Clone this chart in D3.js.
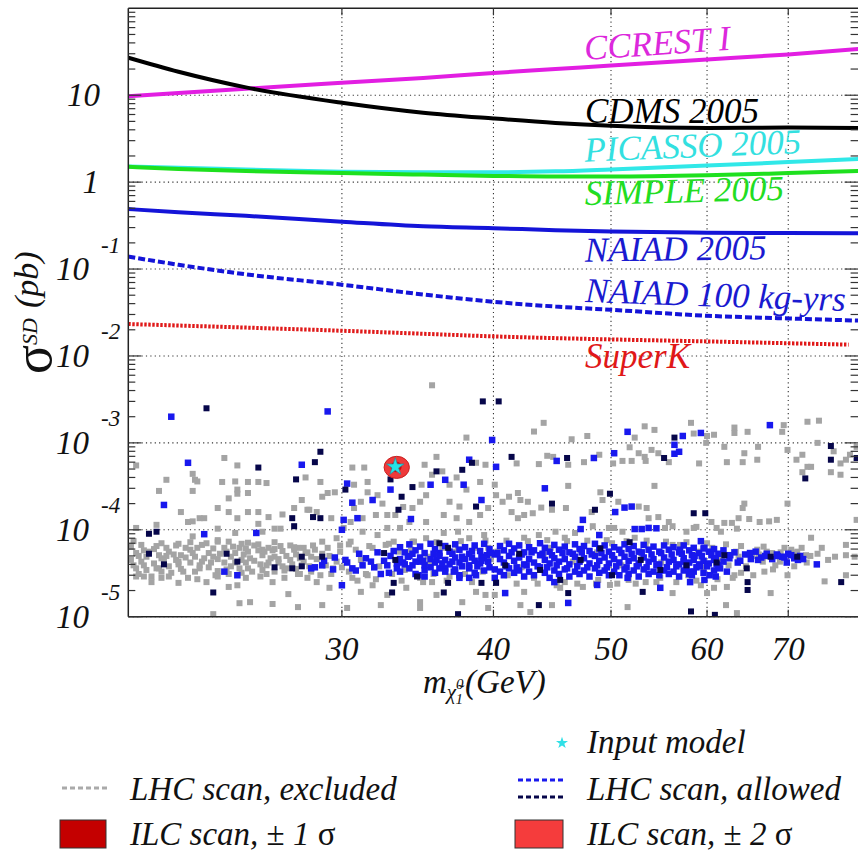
<!DOCTYPE html>
<html><head><meta charset="utf-8">
<script src="https://cdn.jsdelivr.net/npm/d3@7"></script>
<style>
html,body{margin:0;padding:0;background:#fff;}
svg{display:block;}
text{font-family:"Liberation Serif","Times New Roman",serif;}
</style></head>
<body>
<svg id="chart" width="858" height="851"></svg>
<script>
// ---------------- data ----------------
const xTickValues = [30, 40, 50, 60, 70];
const yDecades = [1e-5, 1e-4, 1e-3, 1e-2, 1e-1, 1, 10];
const yTickExponents = [-5, -4, -3, -2, -1, 0, 1];

const curveMass = [20, 22, 25, 30, 35, 40, 45, 50, 60, 70, 80];
const ccrest   = [9.7, 10.6, 11.9, 13.9, 15.8, 18.0, 20.0, 22.0, 25.8, 29.5, 34.0];
const cdms     = [27, 18.6, 12.3, 8.2, 6.3, 5.4, 4.8, 4.45, 4.2, 4.25, 4.2];
const picasso  = [1.51, 1.46, 1.40, 1.32, 1.30, 1.30, 1.33, 1.40, 1.55, 1.70, 1.85];
const simple   = [1.50, 1.42, 1.34, 1.27, 1.22, 1.18, 1.16, 1.16, 1.20, 1.27, 1.34];
const naiad    = [0.49, 0.45, 0.41, 0.35, 0.31, 0.295, 0.28, 0.27, 0.262, 0.26, 0.258];
const naiad100 = [0.139, 0.112, 0.087, 0.066, 0.051, 0.042, 0.037, 0.034, 0.029, 0.027, 0.0255];
const superKMass = [20, 25, 30, 35, 40, 50, 60, 70, 78.5];
const superK     = [0.0233, 0.0212, 0.0195, 0.018, 0.0168, 0.0155, 0.0147, 0.014, 0.0135];

const curveLabels = ["CCREST I", "CDMS 2005", "PICASSO 2005", "SIMPLE 2005", "NAIAD 2005", "NAIAD 100 kg-yrs", "SuperK"];

// input model and ILC fit regions (mass GeV, sigma pb)
const inputModel = [33.2, 5.3e-4];
const ilc2SigmaMass = [32.5, 34.1];
const ilc2SigmaXsec = [3.9e-4, 7.0e-4];
const ilc1SigmaMass = [32.9, 33.6];
const ilc1SigmaXsec = [4.6e-4, 6.1e-4];

// LHC scan, excluded (gray)
const lhcExcluded = [
[24.0,6.7e-4],[24.6,5.5e-4],[20.3,5.5e-4],[22.6,4.4e-4],[21.5,3.76e-4],[22.7,3.76e-4],[22.8,3.6e-4],[23.9,3.55e-4],[24.5,3.6e-4],[25.1,3.55e-4],[25.6,3.55e-4],[26.0,3.45e-4],[28.0,4.0e-4],[21.2,2.8e-4],[22.6,2.8e-4],[24.6,2.9e-4],[24.6,2.6e-4],[25.1,2.65e-4],[24.2,2.3e-4],[27.8,2.2e-4],[23.7,1.78e-4],[24.2,1.6e-4],[25.1,1.6e-4],[25.6,1.6e-4],[22.1,1.6e-4],[27.4,1.78e-4],[28.1,1.7e-4],[22.4,1.23e-4],[22.6,1.25e-4],[22.9,1.36e-4],[23.1,1.36e-4],[24.6,1.36e-4],[25.6,1.17e-4],[26.8,1.5e-4],[26.1,1.4e-4],[21.1,1.14e-4],[20.3,1.05e-4],[23.7,1.03e-4],[24.5,9.2e-5],[25.8,9.5e-5],[26.4,1.03e-4],[26.7,1.03e-4],[22.6,8.4e-5],[23.7,7.3e-5],[24.2,7.3e-5],[24.7,6.2e-5],[25.1,7.1e-5],[25.8,5.9e-5],[26.4,6.0e-5],[27.6,6.2e-5],
[20.3,2.9e-5],[20.6,2.9e-5],[20.9,2.5e-5],[21.3,2.8e-5],[21.6,2.9e-5],[22.0,2.45e-5],[22.4,2.8e-5],[22.8,2.7e-5],[23.2,2.5e-5],[23.7,2.9e-5],[24.2,2.2e-5],[24.6,2.3e-5],[25.0,2.8e-5],[25.7,2.9e-5],[26.3,2.5e-5],[26.9,2.8e-5],[27.1,1.82e-5],[27.6,3.1e-5],[24.7,1.43e-5],[25.2,1.47e-5],[26.3,1.4e-5],[27.6,1.29e-5],[23.5,1.07e-5],[28.1,2.8e-5],
[20.1,6.4e-5],[20.1,4.5e-5],[20.3,5.4e-5],[20.3,3.6e-5],[20.5,6.7e-5],[20.5,4.3e-5],[20.7,4.9e-5],[20.7,3.45e-5],[21.0,6.0e-5],[21.0,4.1e-5],[21.3,7.0e-5],[21.3,4.7e-5],[21.3,3.3e-5],[21.6,5.6e-5],[21.6,3.8e-5],[21.9,6.6e-5],[21.9,4.5e-5],[22.1,5.1e-5],[22.1,3.55e-5],[22.5,7.2e-5],[22.5,5.9e-5],[22.5,4.2e-5],[22.7,4.9e-5],[22.7,3.3e-5],[23.0,6.7e-5],[23.0,4.3e-5],[23.3,5.4e-5],[23.3,3.7e-5],[23.7,7.6e-5],[23.7,4.6e-5],[23.7,3.35e-5],[24.0,6.2e-5],[24.0,4.2e-5],[24.3,4.9e-5],[24.3,3.8e-5],[24.8,6.9e-5],[24.8,4.5e-5],[24.8,3.2e-5],[25.1,5.6e-5],[25.1,3.6e-5],[25.4,6.6e-5],[25.4,4.4e-5],[25.8,5.1e-5],[25.8,3.45e-5],[26.1,6.2e-5],[26.1,4.2e-5],[26.4,7.2e-5],[26.4,4.9e-5],[26.4,3.3e-5],[26.8,5.7e-5],[26.8,3.8e-5],[27.2,6.6e-5],[27.2,4.5e-5],[27.5,5.2e-5],[27.5,3.55e-5],[27.9,6.2e-5],[27.9,4.3e-5],[28.3,4.9e-5],[28.3,3.3e-5],
[20.2,3.9e-5],[20.6,5.8e-5],[21.1,3.6e-5],[21.5,5.0e-5],[22.0,4.0e-5],[22.3,6.2e-5],[22.9,3.9e-5],[23.5,4.9e-5],[24.1,3.5e-5],[24.5,5.4e-5],[25.0,4.2e-5],[25.6,5.8e-5],[26.0,3.9e-5],[26.6,4.6e-5],[27.0,3.6e-5],[27.4,5.9e-5],[27.8,3.9e-5],[28.1,5.5e-5],
[20.2,7.4e-5],[20.4,5.0e-5],[20.4,3.1e-5],[20.6,3.9e-5],[20.8,5.6e-5],[20.9,2.9e-5],[21.1,6.5e-5],[21.2,5.1e-5],[21.2,3.6e-5],[21.4,4.4e-5],[21.5,6.2e-5],[21.7,3.2e-5],[21.8,5.2e-5],[22.0,4.3e-5],[22.0,6.9e-5],[22.2,3.3e-5],[22.3,4.8e-5],[22.6,5.4e-5],[22.8,6.2e-5],[22.9,3.6e-5],[23.1,4.7e-5],[23.2,7.0e-5],[23.4,4.2e-5],[23.5,6.1e-5],[23.6,3.0e-5],[23.8,5.3e-5],[24.1,5.6e-5],[24.2,3.1e-5],[24.4,6.4e-5],[24.5,4.2e-5],[24.7,3.6e-5],[24.9,5.2e-5],[25.0,6.1e-5],[25.2,4.7e-5],[25.3,3.3e-5],[25.6,6.8e-5],[25.7,4.0e-5],[25.9,5.6e-5],[26.0,3.1e-5],[26.2,4.7e-5],[26.3,5.8e-5],[26.6,4.2e-5],[26.7,6.5e-5],[26.9,3.4e-5],[27.0,5.0e-5],[27.3,4.0e-5],[27.4,6.3e-5],[27.7,4.7e-5],[27.7,3.1e-5],[28.0,5.4e-5],[28.2,3.8e-5],[28.4,6.6e-5],[28.6,4.6e-5],[28.9,5.3e-5],[29.1,3.9e-5],[29.3,5.0e-5],[29.4,3.1e-5],[29.7,4.3e-5],[29.9,6.6e-5],[30.0,3.7e-5],
[35.6,4.6e-3],[38.0,1.15e-3],[30.6,5.2e-4],[31.3,5.2e-4],[28.8,3.55e-4],[29.2,2.65e-4],[29.6,2.7e-4],[28.9,2.4e-4],[28.6,1.6e-4],[28.2,1.7e-4],[30.7,3.3e-4],[31.5,3.55e-4],[31.5,2.7e-4],[31.1,2.1e-4],[30.7,1.78e-4],[32.1,2.5e-4],[32.4,2.0e-4],[32.0,1.48e-4],[31.2,1.36e-4],[30.5,1.23e-4],[32.7,1.48e-4],[33.2,1.48e-4],[33.7,1.83e-4],[34.3,1.78e-4],[34.8,2.1e-4],[35.2,2.5e-4],[34.9,3.3e-4],[35.6,4.3e-4],[36.3,4.7e-4],[35.1,5.6e-4],[35.9,6.9e-4],[36.8,3.3e-4],[37.3,4.0e-4],[38.0,2.9e-4],[39.0,3.55e-4],[38.7,5.9e-4],[39.4,5.6e-4],[36.8,2.1e-4],[37.5,1.85e-4],[36.4,1.48e-4],[37.3,1.36e-4],[38.2,1.23e-4],[39.0,1.48e-4],[39.6,1.78e-4],[35.2,1.23e-4],[34.1,1.23e-4],[33.5,1.05e-4],[32.7,1.05e-4],[32.1,8.7e-5],[31.2,9.5e-5],[30.5,7.3e-5],[29.7,8.0e-5],[28.9,7.3e-5],[33.1,7.3e-5],[34.3,7.3e-5],[35.2,8.0e-5],[36.4,9.2e-5],[37.4,9.5e-5],[38.2,8.0e-5],[39.3,8.7e-5],[30.1,1.05e-4],[29.4,1.36e-4],
[28.6,2.5e-5],[29.3,2.15e-5],[28.9,1.36e-5],[30.6,2.8e-5],[31.1,1.93e-5],[31.8,2.3e-5],[32.3,1.36e-5],[32.7,1.78e-5],[33.9,2.15e-5],[34.8,1.47e-5],[35.6,2.5e-5],[35.9,1.78e-5],[34.8,1.26e-5],[37.7,1.47e-5],[38.7,1.93e-5],[39.4,1.78e-5],[39.6,1.26e-5],[30.3,1.26e-5],[31.5,3.0e-5],
[28.5,5.9e-5],[28.8,3.0e-5],[29.2,6.2e-5],[29.5,3.6e-5],[29.9,5.6e-5],[30.4,3.3e-5],[30.8,5.9e-5],[31.1,4.5e-5],[31.4,3.1e-5],[31.8,6.2e-5],[32.2,3.8e-5],[32.6,6.7e-5],[33.0,3.1e-5],[33.4,5.6e-5],[33.8,3.45e-5],[34.2,5.9e-5],[34.8,2.8e-5],[35.3,4.9e-5],[35.7,3.1e-5],[36.3,6.2e-5],[36.8,2.9e-5],[37.4,5.9e-5],[37.9,3.1e-5],[38.6,6.2e-5],[39.2,3.3e-5],[39.6,6.2e-5],
[30.4,6.8e-5],[30.9,2.6e-5],[31.6,6.5e-5],[32.0,2.7e-5],[32.8,6.9e-5],[33.6,2.6e-5],[34.4,7.3e-5],[35.0,2.5e-5],[35.9,7.2e-5],[36.6,2.6e-5],[37.6,7.4e-5],[38.4,2.5e-5],[39.4,7.5e-5],[40.2,2.5e-5],[41.0,7.5e-5],[41.8,2.4e-5],[42.7,7.4e-5],[43.5,2.4e-5],[44.3,7.6e-5],[45.1,2.3e-5],[46.0,7.4e-5],[46.9,2.4e-5],[47.8,7.5e-5],[48.6,2.4e-5],[49.6,7.6e-5],[50.6,2.4e-5],[51.5,7.4e-5],[52.4,2.4e-5],[53.5,7.5e-5],[54.5,2.5e-5],[55.5,7.3e-5],[56.6,2.5e-5],[57.7,7.2e-5],[58.8,2.6e-5],[60.0,7.0e-5],[61.2,2.7e-5],[62.2,6.8e-5],[63.0,2.8e-5],[64.0,6.5e-5],[65.5,3.0e-5],[66.8,6.4e-5],[68.0,3.5e-5],[69.5,6.2e-5],[70.8,3.8e-5],[72.5,4.2e-5],[74.0,5.3e-5],[76.5,4.9e-5],
[35.4,4.1e-5],[37.0,5.6e-5],[39.8,4.6e-5],[42.2,3.7e-5],[44.0,5.3e-5],[46.5,4.3e-5],[48.7,5.5e-5],[51.0,3.9e-5],[53.0,5.3e-5],[55.0,4.2e-5],[57.2,5.4e-5],[59.4,4.8e-5],[61.5,5.0e-5],[63.7,4.9e-5],[66.2,5.2e-5],[69.0,5.5e-5],[71.2,5.6e-5],[73.0,5.0e-5],
[44.0,1.7e-3],[43.2,1.35e-3],[47.8,1.2e-3],[46.4,1.1e-3],[53.3,1.55e-3],[54.3,1.41e-3],[52.3,1.15e-3],[51.8,8.9e-4],[52.7,7.6e-4],[54.0,8.3e-4],[54.7,7.6e-4],[53.3,6.9e-4],[50.2,5.8e-4],[51.1,6.2e-4],[52.0,6.2e-4],[53.4,6.2e-4],[55.8,6.0e-4],[41.8,5.8e-4],[43.6,5.7e-4],[44.3,7.1e-4],[44.8,6.9e-4],[46.1,5.6e-4],[47.5,6.0e-4],[48.9,7.3e-4],[40.1,3.3e-4],[40.2,2.5e-4],[40.7,2.1e-4],[41.2,2.4e-4],[41.9,2.65e-4],[42.1,2.2e-4],[42.7,2.1e-4],[41.4,1.6e-4],[41.9,1.36e-4],[42.4,1.48e-4],[43.1,1.55e-4],[43.8,1.8e-4],[44.7,1.7e-4],[45.9,1.78e-4],[46.1,3.2e-4],[49.0,2.7e-4],[48.2,1.6e-4],[49.2,2.2e-4],[50.7,2.1e-4],[52.7,1.85e-4],[53.5,1.78e-4],[54.3,3.2e-4],[53.7,1.36e-4],[54.7,1.4e-4],[55.8,1.23e-4],[56.2,1.1e-4],[45.0,9.5e-5],[43.6,8.7e-5],[42.4,8.1e-5],[45.8,8.1e-5],[46.7,9.2e-5],[48.3,1.1e-4],[49.8,1.05e-4],[50.3,1.05e-4],[51.1,9.5e-5],[52.3,8.1e-5],[55.4,1.05e-4],
[42.4,1.93e-5],[44.7,1.36e-5],[42.1,1.36e-5],[47.4,2.2e-5],[51.6,1.29e-5],[56.2,1.87e-5],[40.1,1.78e-5],[42.9,1.13e-5],[45.4,2.15e-5],[49.9,2.32e-5],[53.4,2.5e-5],
[40.3,5.6e-5],[41.1,3.0e-5],[42.0,6.7e-5],[43.2,2.8e-5],[44.6,6.2e-5],[45.8,2.5e-5],[47.2,5.9e-5],[48.8,2.65e-5],[50.1,7.0e-5],[51.7,2.65e-5],[53.4,6.7e-5],[54.9,2.8e-5],[56.2,6.7e-5],
[58.2,1.7e-3],[58.5,1.28e-3],[60.0,1.2e-3],[60.8,1.24e-3],[63.2,1.5e-3],[63.2,1.3e-3],[64.8,1.34e-3],[69.4,1.6e-3],[69.2,1.34e-3],[72.6,1.75e-3],[74.2,1.8e-3],[59.9,1.0e-3],[62.0,9.0e-4],[64.4,7.6e-4],[66.0,6.4e-4],[64.2,6.0e-4],[62.3,6.0e-4],[59.1,5.8e-4],[66.1,9.0e-4],[69.9,8.3e-4],[71.9,7.3e-4],[71.1,6.4e-4],[72.6,5.3e-4],[73.1,5.3e-4],[71.9,4.6e-4],[74.0,1.0e-3],[76.3,8.0e-4],[77.3,5.8e-4],[78.1,6.4e-4],[78.7,7.3e-4],[75.9,4.6e-4],[77.3,4.3e-4],[79.7,9.0e-4],[64.4,2.0e-4],[64.2,1.78e-4],[69.9,2.0e-4],[79.7,1.3e-4],[58.8,1.08e-4],[60.5,1.23e-4],[61.1,1.05e-4],[62.0,1.2e-4],[62.9,1.2e-4],[63.7,1.36e-4],[65.0,1.33e-4],[66.3,1.23e-4],[67.5,1.25e-4],[68.5,1.3e-4],[61.6,9.5e-5],[63.5,1.03e-4],[57.7,9.5e-5],[58.5,1.05e-4],[73.1,8.1e-5],[74.6,6.2e-5],[75.5,4.5e-5],[78.1,6.7e-5],[78.1,5.1e-5],[79.4,4.9e-5],[72.4,5.1e-5],[70.4,5.9e-5],[71.8,6.2e-5],[67.2,5.6e-5],[66.0,5.9e-5],[69.9,3.0e-5],[62.3,2.2e-5],[63.2,3.0e-5],[64.0,3.2e-5],[66.9,3.3e-5],[67.7,1.87e-5],[75.0,2.55e-5],[78.1,3.0e-5],[62.2,1.36e-5],[63.5,1.1e-5],[59.3,2.3e-5],[60.0,1.87e-5],[60.8,2.15e-5],
[57.0,6.7e-5],[57.9,3.0e-5],[59.0,5.6e-5],[60.6,6.2e-5],[61.7,4.5e-5],[63.4,5.6e-5],[64.6,3.8e-5],[65.4,5.0e-5],[66.7,4.3e-5],[67.9,5.4e-5],[68.9,4.3e-5],[71.0,5.4e-5],[68.3,3.9e-5],[62.5,3.9e-5],[59.6,3.7e-5]
];

// LHC scan, allowed (blue)
const lhcAllowedBlue = [
[21.7,2.0e-3],[22.4,5.9e-4],[21.4,1.93e-4],[23.1,8.9e-5],[25.5,9.2e-5],[27.8,5.6e-4],[24.0,3.3e-5],[24.6,3.0e-5],[28.3,3.6e-5],
[29.2,2.3e-3],[39.9,1.08e-3],[30.3,3.4e-4],[32.9,2.9e-4],[30.6,2.05e-4],[31.8,2.2e-4],[34.2,1.33e-4],[30.1,1.3e-4],[30.9,1.36e-4],[30.0,1.0e-4],[35.5,3.3e-4],[36.5,3.76e-4],[37.8,3.3e-4],[39.1,2.2e-4],[38.2,6.4e-4],
[28.5,3.7e-5],[28.9,3.9e-5],[29.6,4.8e-5],[30.6,3.6e-5],[31.2,3.9e-5],[31.7,4.3e-5],[32.3,3.1e-5],[32.7,3.9e-5],[33.7,4.2e-5],[34.3,3.9e-5],[34.8,4.3e-5],[35.9,4.5e-5],[36.5,3.6e-5],[37.0,4.3e-5],[37.7,4.9e-5],[38.4,4.8e-5],[39.1,4.9e-5],[39.6,4.3e-5],[38.2,3.6e-5],[38.7,3.0e-5],[37.5,2.8e-5],[30.0,2.3e-5],[35.5,3.7e-5],[33.3,3.6e-5],
[30.2,4.5e-5],[32.9,5.0e-5],[34.0,4.9e-5],[35.1,3.45e-5],[36.1,5.4e-5],[37.1,3.3e-5],[38.8,3.8e-5],[39.5,5.1e-5],[34.7,3.0e-5],
[30.3,4.2e-5],[30.8,3.4e-5],[31.0,5.3e-5],[31.4,4.7e-5],[31.9,3.7e-5],[32.1,5.5e-5],[32.5,4.4e-5],[32.8,3.2e-5],[33.1,5.7e-5],[33.3,4.1e-5],[29.0,4.4e-5],[29.5,3.5e-5],
[33.5,6.3e-5],[33.5,4.6e-5],[33.5,3.3e-5],[33.8,5.5e-5],[33.8,4.0e-5],[34.1,6.8e-5],[34.1,5.0e-5],[34.1,3.6e-5],[34.5,5.8e-5],[34.5,4.3e-5],[34.5,3.1e-5],[34.8,6.4e-5],[34.8,4.8e-5],[35.1,5.4e-5],[35.1,3.9e-5],[35.1,2.9e-5],[35.5,6.9e-5],[35.5,4.6e-5],[35.8,6.0e-5],[35.8,4.2e-5],[35.8,3.2e-5],[36.1,5.0e-5],[36.1,3.6e-5],[36.5,6.5e-5],[36.5,4.5e-5],[36.5,3.3e-5],[36.8,5.6e-5],[36.8,4.0e-5],[37.2,6.8e-5],[37.2,4.8e-5],[37.2,3.5e-5],[37.5,5.9e-5],[37.5,4.2e-5],[37.5,3.0e-5],[37.9,6.3e-5],[37.9,4.6e-5],[38.2,5.3e-5],[38.2,3.9e-5],[38.2,2.8e-5],[38.6,6.6e-5],[38.6,4.4e-5],[38.6,3.2e-5],[39.0,5.7e-5],[39.0,4.1e-5],[39.3,6.9e-5],[39.3,4.7e-5],[39.3,3.4e-5],[39.7,6.0e-5],[39.7,3.7e-5],
[40.1,5.2e-5],[40.1,3.5e-5],[40.1,2.8e-5],[40.5,6.5e-5],[40.5,4.6e-5],[40.5,3.3e-5],[40.8,5.8e-5],[40.8,4.2e-5],[40.8,3.0e-5],[41.2,6.9e-5],[41.2,5.0e-5],[41.2,3.6e-5],[41.6,6.1e-5],[41.6,4.4e-5],[41.6,3.2e-5],[42.0,6.6e-5],[42.0,4.8e-5],[42.0,3.4e-5],[42.4,5.5e-5],[42.4,4.0e-5],[42.4,2.9e-5],[42.8,6.3e-5],[42.8,4.6e-5],[42.8,3.3e-5],[43.2,5.8e-5],[43.2,4.2e-5],[43.2,3.0e-5],[43.7,7.0e-5],[43.7,5.1e-5],[43.7,3.7e-5],[44.1,6.2e-5],[44.1,4.5e-5],[44.1,3.2e-5],[44.5,5.6e-5],[44.5,4.1e-5],[44.5,2.8e-5],[44.9,6.7e-5],[44.9,4.7e-5],[44.9,3.4e-5],[45.3,5.9e-5],[45.3,4.3e-5],[45.3,3.1e-5],[45.8,6.4e-5],[45.8,4.6e-5],[45.8,3.5e-5],[46.2,5.5e-5],[46.2,4.0e-5],[46.2,2.9e-5],[46.7,6.8e-5],[46.7,4.9e-5],[46.7,3.3e-5],[47.1,6.0e-5],[47.1,4.3e-5],[47.1,3.1e-5],[47.5,6.5e-5],[47.5,4.7e-5],[47.5,3.4e-5],[48.0,5.7e-5],[48.0,4.1e-5],[48.0,2.9e-5],[48.5,6.9e-5],[48.5,5.0e-5],[48.5,3.6e-5],[48.9,6.1e-5],[48.9,4.4e-5],[48.9,3.2e-5],[49.4,6.6e-5],[49.4,4.8e-5],[49.4,3.4e-5],[49.8,5.6e-5],[49.8,4.1e-5],[49.8,3.0e-5],
[50.3,6.3e-5],[50.3,4.6e-5],[50.3,3.3e-5],[50.8,5.9e-5],[50.8,4.2e-5],[50.8,3.0e-5],[51.3,6.8e-5],[51.3,4.9e-5],[51.3,3.5e-5],[51.7,6.0e-5],[51.7,4.4e-5],[51.7,3.1e-5],[52.2,6.5e-5],[52.2,4.7e-5],[52.2,3.4e-5],[52.7,5.6e-5],[52.7,4.1e-5],[52.7,2.9e-5],[53.2,6.7e-5],[53.2,4.8e-5],[53.2,3.5e-5],[53.7,5.9e-5],[53.7,4.3e-5],[53.7,3.1e-5],[54.2,6.4e-5],[54.2,4.6e-5],[54.2,3.3e-5],[54.8,5.6e-5],[54.8,4.0e-5],[54.8,3.0e-5],[55.3,6.6e-5],[55.3,4.8e-5],[55.3,3.4e-5],[55.8,5.9e-5],[55.8,4.3e-5],[55.8,3.1e-5],[56.3,6.3e-5],[56.3,4.5e-5],[56.3,3.3e-5],[56.9,5.5e-5],[56.9,4.0e-5],[56.9,2.9e-5],[57.4,6.6e-5],[57.4,4.7e-5],[57.4,3.4e-5],[58.0,5.8e-5],[58.0,4.2e-5],[58.0,3.1e-5],[58.5,6.2e-5],[58.5,4.5e-5],[58.5,3.3e-5],[59.1,5.4e-5],[59.1,4.0e-5],[59.6,6.1e-5],[59.6,4.4e-5],[59.6,3.2e-5],[60.2,5.6e-5],[60.2,4.1e-5],[60.8,6.0e-5],[60.8,4.5e-5],[60.8,3.4e-5],[61.3,5.3e-5],[61.3,3.9e-5],[61.9,5.8e-5],[61.9,4.3e-5],
[40.3,5.4e-5],[41.0,3.8e-5],[41.4,5.5e-5],[41.8,3.7e-5],[42.2,5.2e-5],[42.6,3.9e-5],[43.0,5.5e-5],[43.5,3.8e-5],[43.9,5.3e-5],[44.3,3.7e-5],[44.7,5.1e-5],[45.1,3.9e-5],[45.6,5.4e-5],[46.0,3.6e-5],[46.5,5.3e-5],[46.9,3.8e-5],[47.3,5.5e-5],[47.8,3.7e-5],[48.2,5.2e-5],[48.7,3.9e-5],[49.1,5.4e-5],[49.6,3.7e-5],[50.1,5.1e-5],[50.5,3.8e-5],[51.0,5.4e-5],[51.5,3.7e-5],[52.0,5.3e-5],[52.5,3.8e-5],[53.0,5.5e-5],[53.5,3.7e-5],[54.0,5.2e-5],[54.5,3.9e-5],[55.0,5.4e-5],[55.6,3.7e-5],[56.1,5.2e-5],[56.6,3.8e-5],[57.2,5.3e-5],[57.7,3.8e-5],[58.3,5.1e-5],[58.8,3.7e-5],[59.4,5.0e-5],[60.0,3.8e-5],[60.5,5.1e-5],[61.1,4.0e-5],
[34.3,5.3e-5],[35.0,4.4e-5],[35.7,5.3e-5],[36.3,4.1e-5],[37.0,5.3e-5],[37.7,3.8e-5],[38.4,5.7e-5],[39.1,4.4e-5],[39.8,5.4e-5],
[62.6,4.7e-5],[63.2,5.5e-5],[63.9,4.4e-5],[64.5,5.2e-5],[65.2,4.6e-5],[65.8,5.6e-5],[66.5,4.8e-5],[67.2,5.3e-5],[67.9,4.6e-5],[68.5,5.2e-5],[69.2,4.9e-5],[70.0,5.3e-5],[70.8,4.7e-5],[71.6,5.0e-5],[72.0,4.6e-5],
[51.6,1.34e-3],[40.2,5.3e-4],[45.1,6.2e-4],[48.4,6.7e-4],[50.3,7.6e-4],[44.1,3.0e-4],[47.4,1.3e-4],[47.2,1.02e-4],[48.9,8.7e-5],[50.4,1.6e-4],[51.3,1.8e-4],[52.0,1.85e-4],[52.3,1.02e-4],[53.0,1.02e-4],[53.7,1.05e-4],[54.5,1.04e-4],[56.4,7.5e-4],[40.9,1.87e-5],[46.1,1.44e-5],[48.7,2.32e-5],[44.9,2.5e-5],[51.6,2.8e-5],[54.9,2.15e-5],
[57.0,5.9e-5],[57.4,4.3e-5],[58.1,3.3e-5],[58.6,5.0e-5],[59.2,3.8e-5],[59.7,6.2e-5],[60.3,3.0e-5],[61.0,4.7e-5],[61.5,3.6e-5],[62.7,5.1e-5],[63.6,4.2e-5],[65.1,5.4e-5],[66.1,4.5e-5],[67.0,5.0e-5],[68.6,5.0e-5],[69.5,4.8e-5],[70.4,5.1e-5],[71.3,4.5e-5],[69.8,4.2e-5],[62.3,3.3e-5],[59.7,2.65e-5],[58.1,2.5e-5],
[59.3,1.3e-3],[57.3,1.2e-3],[56.9,7.9e-4],[56.4,9.5e-4],[67.6,1.6e-3],[59.3,7.4e-5],[73.9,4.0e-5],[61.0,2.9e-5],[58.3,3.0e-5]
];

// LHC scan, allowed (dark navy)
const lhcAllowedNavy = [
[23.2,2.5e-3],[27.5,3.8e-4],[25.6,5.2e-4],[27.3,1.36e-4],[27.4,1.1e-4],[20.8,9.0e-5],[21.1,9.5e-5],[20.8,5.3e-5],[21.4,4.0e-5],[24.1,5.3e-5],[24.6,4.3e-5],[26.4,3.7e-5],[27.3,3.6e-5],[27.8,3.8e-5],[27.8,4.9e-5],[23.5,1.9e-5],
[39.2,3.0e-3],[28.8,7.9e-4],[28.5,6.0e-4],[30.2,2.9e-4],[32.9,3.8e-4],[33.6,2.4e-4],[33.4,1.7e-4],[34.3,3.1e-4],[35.9,4.7e-4],[37.7,4.9e-4],[38.4,5.9e-4],[38.7,1.85e-4],[28.4,1.4e-4],[28.8,1.36e-4],[28.9,4.9e-5],[32.5,5.4e-5],[33.2,4.5e-5],[36.1,7.0e-5],[36.7,6.2e-5],[34.6,2.9e-5],[33.1,2.45e-5],[33.0,1.9e-5],[36.7,2.45e-5],[36.4,1.9e-5],[37.4,1.07e-5],[39.1,2.45e-5],
[40.4,3.0e-3],[41.4,6.9e-4],[46.0,6.7e-4],[44.7,2.0e-4],[48.5,1.7e-4],[56.4,1.15e-3],[49.9,2.6e-4],[55.3,6.7e-4],[51.8,7.2e-5],[43.6,1.36e-5],[46.1,1.87e-5],[53.1,1.93e-5],[40.2,2.45e-5],
[42.0,5.3e-5],[43.7,3.45e-5],[47.2,4.5e-5],[50.1,3.0e-5],[52.9,4.5e-5],[54.9,3.45e-5],[45.4,2.65e-5],[40.9,3.9e-5],[49.0,6.1e-5],
[75.9,9.2e-4],[75.9,6.4e-4],[72.3,3.9e-4],[58.5,1.55e-4],[59.8,1.55e-4],[64.8,2.5e-5],[64.8,2.03e-5],[77.4,2.5e-5],[58.2,1.15e-5],[60.9,1.05e-5],[79.7,6.7e-4],[57.7,3.9e-5],[61.1,4.2e-5],[64.7,3.6e-5],[67.7,4.9e-5],[71.2,4.9e-5],[62.0,5.1e-5]
];

// ---------------- drawing ----------------
const svg = d3.select("#chart");
const L = 128.3, R = 858.6, T = 8.3, B = 616.7;
const x = d3.scaleLog().domain([20, 80]).range([L, R]);
const y = d3.scaleLog().domain([1e-5, 100]).range([B, T]);

svg.append("rect").attr("width", 858).attr("height", 851).attr("fill", "#fff");

svg.append("defs").append("clipPath").attr("id", "plotclip")
  .append("rect").attr("x", L).attr("y", T).attr("width", R - L).attr("height", B - T);

// grid
const grid = svg.append("g").attr("stroke", "#333").attr("stroke-width", 1.1).attr("stroke-dasharray", "1.2,3.2");
grid.selectAll(".gx").data(xTickValues).join("line")
  .attr("x1", d => x(d)).attr("x2", d => x(d)).attr("y1", T).attr("y2", B);
grid.selectAll(".gy").data(yDecades).join("line")
  .attr("x1", L).attr("x2", R).attr("y1", d => y(d)).attr("y2", d => y(d));

const plot = svg.append("g").attr("clip-path", "url(#plotclip)");

// scatter points
function drawPts(data, color, size) {
  plot.append("g").selectAll("rect").data(data).join("rect")
    .attr("x", d => x(d[0]) - size / 2).attr("y", d => y(d[1]) - size / 2)
    .attr("width", size).attr("height", size).attr("fill", color);
}
drawPts(lhcExcluded, "#a4a4a4", 6);
drawPts(lhcAllowedBlue, "#1818ee", 6.5);
drawPts(lhcAllowedNavy, "#06064a", 6);

// ILC ellipses
function ellipse(ms, ss, fill, stroke) {
  const cx = (x(ms[0]) + x(ms[1])) / 2, cy = (y(ss[0]) + y(ss[1])) / 2;
  plot.append("ellipse").attr("cx", cx).attr("cy", cy)
    .attr("rx", Math.abs(x(ms[1]) - x(ms[0])) / 2).attr("ry", Math.abs(y(ss[1]) - y(ss[0])) / 2)
    .attr("fill", fill).attr("stroke", stroke).attr("stroke-width", 1);
}
ellipse(ilc2SigmaMass, ilc2SigmaXsec, "#ee3a3a", "#c82020");
ellipse(ilc1SigmaMass, ilc1SigmaXsec, "#cc0a0a", "none");

// star
plot.append("path").attr("d", d3.symbol(d3.symbolStar, 95)())
  .attr("transform", `translate(${x(inputModel[0])},${y(inputModel[1])})`)
  .attr("fill", "#26e2e6").attr("stroke", "#2a8a9a").attr("stroke-width", 0.7);

// limit curves
const line = d3.line().x(d => x(d[0])).y(d => y(d[1])).curve(d3.curveMonotoneX);
function drawCurve(ms, vs, color, width, dash) {
  plot.append("path").datum(ms.map((m, i) => [m, vs[i]])).attr("d", line)
    .attr("fill", "none").attr("stroke", color).attr("stroke-width", width)
    .attr("stroke-dasharray", dash || null);
}
drawCurve(curveMass, ccrest, "#e21ee2", 4);
drawCurve(curveMass, cdms, "#000", 4);
drawCurve(curveMass, picasso, "#30e8e8", 4);
drawCurve(curveMass, simple, "#1ee01e", 4);
drawCurve(curveMass, naiad, "#1414d8", 4);
drawCurve(curveMass, naiad100, "#1414d8", 4, "7,3");
drawCurve(superKMass, superK, "#e01818", 4, "2.4,1.6");

// curve labels
const labelColors = ["#dc28dc", "#000", "#33e0e0", "#22dd22", "#1a1ad0", "#1a1ad0", "#e01818"];
const labelPos = [[585, 60, -4], [585, 122.5, 0], [585, 161.7, -2.3], [585, 205, -1.5], [585, 261.7, -0.8], [585, 302, 2.0], [585, 367.5, 0]];
curveLabels.forEach((t, i) => {
  const p = labelPos[i];
  svg.append("text").attr("transform", `translate(${p[0]},${p[1]}) rotate(${p[2]})`)
    .attr("font-size", 35).attr("font-style", "italic").attr("fill", labelColors[i]).text(t);
});

// frame
const fr = svg.append("g").attr("stroke", "#222").attr("stroke-width", 1.5);
fr.append("line").attr("x1", L).attr("x2", R).attr("y1", T).attr("y2", T);
fr.append("line").attr("x1", L).attr("x2", R).attr("y1", B).attr("y2", B);
fr.append("line").attr("x1", L).attr("x2", L).attr("y1", T).attr("y2", B);

// y ticks (major + minor) both sides
const yMinor = [];
yDecades.concat([100]).forEach(d => { for (let k = 2; k <= 9; k++) if (d * k < 100) yMinor.push(d * k); });
const tk = svg.append("g").attr("stroke", "#333").attr("stroke-width", 1.2);
tk.selectAll(".ymaj").data(yDecades).join("line").attr("x1", L).attr("x2", L + 13).attr("y1", d => y(d)).attr("y2", d => y(d));
tk.selectAll(".ymin").data(yMinor).join("line").attr("x1", L).attr("x2", L + 7).attr("y1", d => y(d)).attr("y2", d => y(d));
tk.selectAll(".ymajr").data(yDecades).join("line").attr("x1", R - 14).attr("x2", R).attr("y1", d => y(d)).attr("y2", d => y(d));
tk.selectAll(".yminr").data(yMinor).join("line").attr("x1", R - 8).attr("x2", R).attr("y1", d => y(d)).attr("y2", d => y(d));
tk.selectAll(".xb").data(xTickValues).join("line").attr("x1", d => x(d)).attr("x2", d => x(d)).attr("y1", B).attr("y2", B - 7);
tk.selectAll(".xt").data(xTickValues).join("line").attr("x1", d => x(d)).attr("x2", d => x(d)).attr("y1", T).attr("y2", T + 7);

// y tick labels
yDecades.forEach((d, i) => {
  const e = yTickExponents[i], yy = y(d);
  const g = svg.append("g").attr("font-style", "italic").attr("fill", "#111");
  if (e === 0) {
    g.append("text").attr("x", 99).attr("y", yy + 11).attr("text-anchor", "end").attr("font-size", 33).text("1");
  } else if (e === 1) {
    g.append("text").attr("x", 100).attr("y", yy + 11).attr("text-anchor", "end").attr("font-size", 33).text("10");
  } else {
    g.append("text").attr("x", 89).attr("y", yy + 11).attr("text-anchor", "end").attr("font-size", 33).text("10");
    g.append("text").attr("x", 101).attr("y", yy - 16.5).attr("font-size", 23).text(String(e));
  }
});

// x tick labels
svg.append("g").selectAll("text").data(xTickValues).join("text")
  .attr("x", d => x(d)).attr("y", 660).attr("text-anchor", "middle")
  .attr("font-size", 33).attr("font-style", "italic").attr("fill", "#111").text(d => d);

// x axis title (single text element with sub/superscripts)
const xt = svg.append("text").attr("x", 423).attr("y", 693).attr("font-style", "italic").attr("fill", "#111").attr("font-size", 33);
xt.append("tspan").text("m");
xt.append("tspan").attr("font-size", 21).attr("dy", 6).text("\u03C7\u0303");
xt.append("tspan").attr("font-size", 15).attr("dy", -10).text("0");
xt.append("tspan").attr("font-size", 15).attr("dx", -8).attr("dy", 15).text("1");
xt.append("tspan").attr("font-size", 33).attr("dx", 2).attr("dy", -11).text("(GeV)");

// y axis title
const yt = svg.append("text").attr("transform", "rotate(-90)").attr("x", -374).attr("y", 51).attr("fill", "#111");
yt.append("tspan").attr("font-size", 54).text("σ");
yt.append("tspan").attr("font-size", 22).attr("font-style", "italic").attr("dy", -14).text("SD");
yt.append("tspan").attr("font-size", 34).attr("font-style", "italic").attr("dx", 10).attr("dy", 1).text("(pb)");

// legend
const lg = svg.append("g").attr("fill", "#111");
lg.append("path").attr("d", d3.symbol(d3.symbolStar, 45)()).attr("transform", "translate(562,743)").attr("fill", "#30e0e6");
lg.append("text").attr("x", 587).attr("y", 753).attr("font-size", 33).attr("font-style", "italic").text("Input model");

lg.append("line").attr("x1", 62).attr("x2", 107).attr("y1", 788).attr("y2", 788).attr("stroke", "#aaa").attr("stroke-width", 3).attr("stroke-dasharray", "5,3");
lg.append("text").attr("x", 130).attr("y", 800).attr("font-size", 33).attr("font-style", "italic").text("LHC scan, excluded");

lg.append("line").attr("x1", 518).attr("x2", 563).attr("y1", 780).attr("y2", 780).attr("stroke", "#1a1aee").attr("stroke-width", 3).attr("stroke-dasharray", "5,3");
lg.append("line").attr("x1", 518).attr("x2", 563).attr("y1", 797).attr("y2", 797).attr("stroke", "#06064a").attr("stroke-width", 3).attr("stroke-dasharray", "5,3");
lg.append("text").attr("x", 587).attr("y", 800).attr("font-size", 33).attr("font-style", "italic").text("LHC scan, allowed");

lg.append("rect").attr("x", 60).attr("y", 820).attr("width", 46).attr("height", 28).attr("fill", "#c40000").attr("stroke", "#333").attr("stroke-width", 1);
const t1 = lg.append("text").attr("x", 130).attr("y", 845).attr("font-size", 33);
t1.append("tspan").attr("font-style", "italic").text("ILC scan, ");
t1.append("tspan").text("± ");
t1.append("tspan").attr("font-style", "italic").text("1 ");
t1.append("tspan").text("σ");

lg.append("rect").attr("x", 515).attr("y", 820).attr("width", 48).attr("height", 28).attr("fill", "#f53c3c").attr("stroke", "#333").attr("stroke-width", 1);
const t2 = lg.append("text").attr("x", 587).attr("y", 845).attr("font-size", 33);
t2.append("tspan").attr("font-style", "italic").text("ILC scan, ");
t2.append("tspan").text("± ");
t2.append("tspan").attr("font-style", "italic").text("2 ");
t2.append("tspan").text("σ");
</script>
</body></html>
